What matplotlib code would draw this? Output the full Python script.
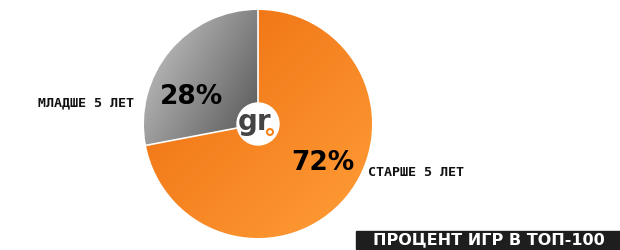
import numpy as np
import matplotlib.pyplot as plt
from matplotlib.patches import Circle, Rectangle

# data
groups = ['МЛАДШЕ 5 ЛЕТ', 'СТАРШЕ 5 ЛЕТ']
shares = [28, 72]
title = 'ПРОЦЕНТ ИГР В ТОП-100'

fig = plt.figure(figsize=(6.2, 2.5), dpi=100)
ax = fig.add_axes([0, 0, 1, 1])

cx, cy, r = 258, 126, 114
wedges, _ = ax.pie(shares, startangle=90, counterclock=True, center=(cx, cy), radius=r,
                   colors=['#8a8a8a', '#f7831e'],
                   wedgeprops=dict(edgecolor='white', linewidth=1))

# gradients clipped to each wedge
yy, xx = np.mgrid[0:1:200j, 0:1:200j]
g = np.clip(0.65 * xx + 0.45 * yy, 0, 1)
gray = np.zeros((200, 200, 3))
c0 = np.array([0.80, 0.80, 0.80]); c1 = np.array([0.36, 0.36, 0.36])
gray[:] = c0 + (c1 - c0) * g[..., None]
im = ax.imshow(gray, extent=(cx - r, cx, cy - 30, cy + r), origin='upper', zorder=2)
im.set_clip_path(wedges[0])

o = np.clip(0.5 * xx + 0.5 * (1 - yy), 0, 1)
org = np.zeros((200, 200, 3))
o0 = np.array([0.93, 0.42, 0.05]); o1 = np.array([1.0, 0.62, 0.22])
org[:] = o0 + (o1 - o0) * o[..., None]
im2 = ax.imshow(org, extent=(cx - r, cx + r, cy - r, cy + r), origin='lower', zorder=2)
im2.set_clip_path(wedges[1])

# white divider lines on top
for a in [90, 90 + shares[0] * 3.6]:
    t = np.deg2rad(a)
    ax.plot([cx, cx + r * np.cos(t)], [cy, cy + r * np.sin(t)], color='white', lw=1.2, zorder=3)

# logo
ax.add_patch(Circle((cx, cy), 21, color='white', zorder=4))
ax.text(cx - 3, cy + 2, 'gr', fontsize=20, fontweight='bold', color='#444444',
        ha='center', va='center', zorder=5)
ax.add_patch(Circle((cx + 12, cy - 8), 3, facecolor='none', edgecolor='#f7831e', lw=1.5, zorder=5))

# percentages
ax.text(191, 250 - 97, f'{shares[0]}%', fontsize=19, fontweight='bold', color='black',
        ha='center', va='center', zorder=5)
ax.text(323, 250 - 163, f'{shares[1]}%', fontsize=19, fontweight='bold', color='black',
        ha='center', va='center', zorder=5)

# labels
ax.text(86, 250 - 103, groups[0], fontsize=9.6, fontweight='bold', family='DejaVu Sans Mono',
        color='#111111', ha='center', va='center')
ax.text(416, 250 - 172, groups[1], fontsize=9.6, fontweight='bold', family='DejaVu Sans Mono',
        color='#111111', ha='center', va='center')

# title box
ax.add_patch(Rectangle((356, 1), 264, 18, color='#1e1e1e', zorder=5))
ax.text(489, 10, title, fontsize=11.5, fontweight='bold', color='white',
        ha='center', va='center', zorder=6)

ax.set_xlim(0, 620)
ax.set_ylim(0, 250)
ax.set_aspect('auto')
ax.axis('off')

fig.savefig('out.png', dpi=100)
